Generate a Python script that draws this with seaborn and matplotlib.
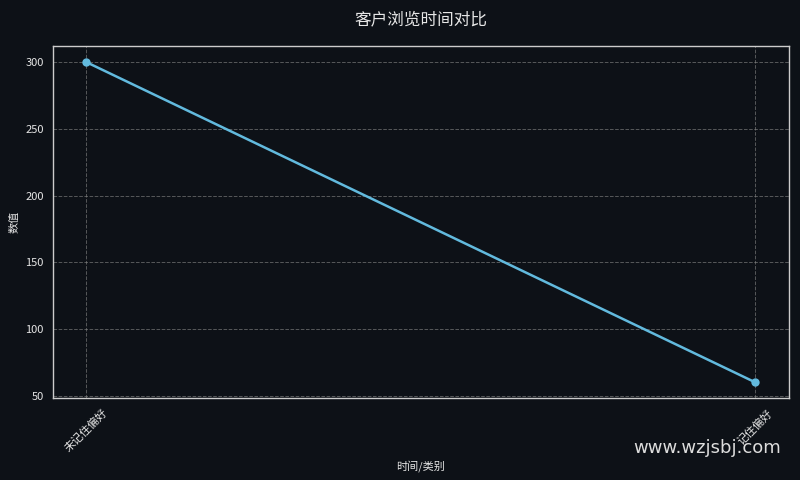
import matplotlib
matplotlib.use("Agg")
import matplotlib.pyplot as plt
import seaborn as sns
import pandas as pd

categories = ["未记住偏好", "记住偏好"]
values = [300, 60]

sns.set_theme(style="darkgrid")
plt.rcParams['font.family'] = ['Noto Sans CJK SC', 'DejaVu Sans']
plt.rcParams['axes.unicode_minus'] = False

bg = "#0d1117"
fg = "#e6e6e6"
df = pd.DataFrame({"category": categories, "value": values})

fig, ax = plt.subplots(figsize=(8, 4.8), dpi=100)
fig.patch.set_facecolor(bg)
ax.set_facecolor(bg)

sns.lineplot(data=df, x="category", y="value", ax=ax, color="#62bade",
             marker="o", markersize=6, markeredgewidth=0, linewidth=1.8, sort=False)

ax.grid(True, linestyle="--", color="#888888", alpha=0.6, linewidth=0.7)
for s in ax.spines.values():
    s.set_visible(True)
    s.set_color("#cccccc")
    s.set_linewidth(1.0)

ax.tick_params(axis="both", colors=fg, labelsize=8, length=3, width=0.8, labelcolor=fg)
ax.tick_params(axis="x", labelrotation=45)
ax.set_xlabel("时间/类别", color=fg, fontsize=8)
ax.set_ylabel("数值", color=fg, fontsize=8)
ax.set_title("客户浏览时间对比", color=fg, fontsize=12, pad=16)

fig.subplots_adjust(left=0.066, right=0.986, top=0.904, bottom=0.17)
fig.text(0.884, 0.067, "www.wzjsbj.com", color="#dddddd", fontsize=13,
         ha="center", va="center", family=["DejaVu Sans"])

fig.savefig("out.png", dpi=100, facecolor=bg)
